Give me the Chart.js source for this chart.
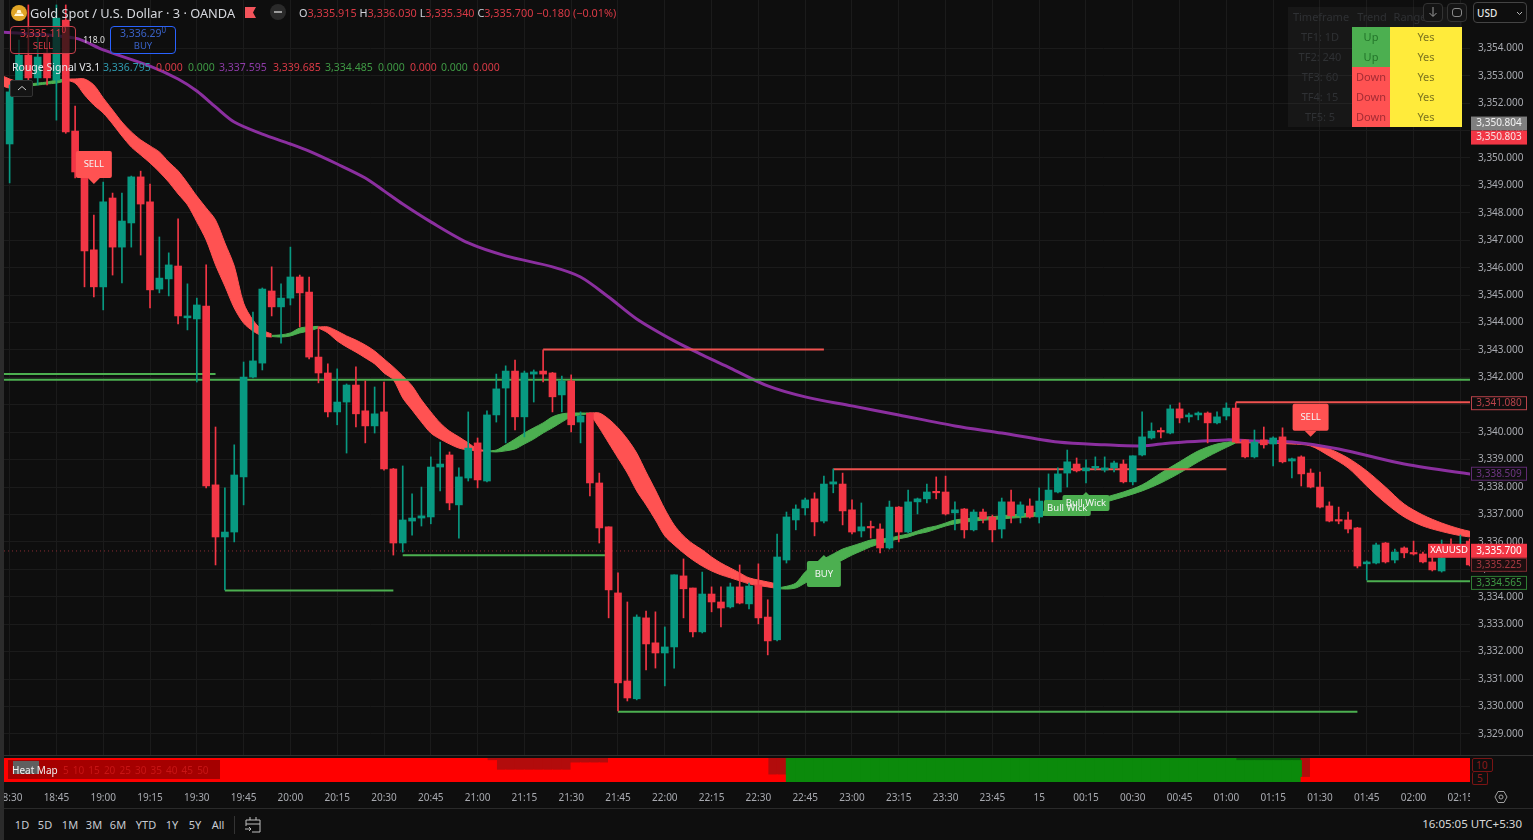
<!DOCTYPE html>
<html>
<head>
<meta charset="utf-8">
<script src="https://cdn.jsdelivr.net/npm/chart.js@4"></script>
<style>
    html, body { margin: 0; padding: 0; background: #0e0e0e; overflow: hidden; }
    body { width: 1533px; height: 840px; position: relative; font-family: "Noto Sans", sans-serif; color: #d1d4dc; }
    canvas { position: absolute; display: block; }
    #myChart { left: 0; top: 0; }
    #heatChart { left: 4px; top: 758px; }
    .t { position: absolute; white-space: nowrap; font-size: 10.5px; line-height: 14px; }
    .c { transform: translateX(-50%); text-align: center; }
    .box { position: absolute; box-sizing: border-box; }
    .red { color: #d93a46; } .grn { color: #3f9a45; } .teal { color: #2f9bb0; } .pur { color: #8e3ba8; }
    .cell { position: absolute; text-align: center; font-size: 11px; line-height: 20px; height: 20px; }
    .dim { color: #2f3134; }
    .tb { position: absolute; left: 0; font-size: 11px; color: #c8cbd2; }
</style>
</head>
<body>
    <canvas id="myChart" width="1533" height="755"></canvas>
    <canvas id="heatChart" width="1466" height="50"></canvas>

    <!-- frame -->
    <div class="box" style="left:0;top:0;width:4px;height:840px;background:#2b2b2b"></div>
    <div class="box" style="left:4px;top:755px;width:1529px;height:1px;background:#303030"></div>
    <div class="box" style="left:4px;top:808px;width:1529px;height:1px;background:#2a2a2a"></div>

    <!-- header -->
    <svg class="box" style="left:11px;top:5px" width="16" height="16"><circle cx="8" cy="8" r="8" fill="#e0a526"/><path d="M3 11h10l-1.5-2.5h-7zM5.5 8h5L9.500 5h-3z" fill="#fff6d8"/></svg>
    <div class="t" style="left:30px;top:5px;font-size:12.8px;line-height:16px;color:#d6d8de">Gold Spot / U.S. Dollar · 3 · OANDA</div>
    <svg class="box" style="left:245px;top:7px" width="11" height="11"><path d="M0 0h11l-3 5.500 3 5.500h-11z" fill="#f2545b"/></svg>
    <div class="box" style="left:270px;top:4px;width:16px;height:16px;border-radius:8px;background:#2a2a2a"></div>
    <div class="box" style="left:274px;top:11px;width:8px;height:2px;background:#9a9a9a"></div>
    <div class="t" style="left:299px;top:6px;font-size:10.85px">O<span class="red">3,335.915</span> H<span class="red">3,336.030</span> L<span class="red">3,335.340</span> C<span class="red">3,335.700</span> <span class="red">−0.180 (−0.01%)</span></div>

    <div class="box" style="left:10px;top:26px;width:66px;height:28px;border:1px solid #c8404c;border-radius:4px;background:rgba(15,15,15,.72)"></div>
    <div class="t c red" style="left:43px;top:26px;font-size:10.5px">3,335.11<sup style="font-size:8px;line-height:0">0</sup></div>
    <div class="t c red" style="left:43px;top:39px;font-size:9.5px">SELL</div>
    <div class="t c" style="left:94px;top:33px;font-size:8.5px;color:#e0e0e0">118.0</div>
    <div class="box" style="left:110px;top:26px;width:66px;height:28px;border:1px solid #2962ff;border-radius:4px;background:rgba(15,15,15,.72)"></div>
    <div class="t c" style="left:143px;top:26px;font-size:10.5px;color:#3a62c8">3,336.29<sup style="font-size:8px;line-height:0">0</sup></div>
    <div class="t c" style="left:143px;top:39px;font-size:9.5px;color:#3a62c8">BUY</div>

    <div class="t" style="left:12px;top:60px;color:#e4e6ea">Rouge Signal V3.1</div>
    <div class="t teal" style="left:103px;top:60px">3,336.795</div>
    <div class="t red" style="left:156px;top:60px">0.000</div>
    <div class="t grn" style="left:188px;top:60px">0.000</div>
    <div class="t pur" style="left:219px;top:60px">3,337.595</div>
    <div class="t red" style="left:273px;top:60px">3,339.685</div>
    <div class="t grn" style="left:325px;top:60px">3,334.485</div>
    <div class="t grn" style="left:378px;top:60px">0.000</div>
    <div class="t red" style="left:410px;top:60px">0.000</div>
    <div class="t grn" style="left:441px;top:60px">0.000</div>
    <div class="t red" style="left:473px;top:60px">0.000</div>
    <div class="box" style="left:10px;top:80px;width:23px;height:17px;border:1px solid #333;border-radius:2px;background:#141414"></div>
    <svg class="box" style="left:17px;top:85px" width="10" height="7"><path d="M1 5l4-3.500 4 3.500" fill="none" stroke="#cfcfcf"/></svg>

    <!-- trend table -->
    <div class="box" style="left:1288px;top:7px;width:174px;height:120px;background:rgba(60,60,60,.22)"></div>
    <div class="cell dim" style="left:1288px;top:7px;width:66px">Timeframe</div>
    <div class="cell dim" style="left:1354px;top:7px;width:36px">Trend</div>
    <div class="cell dim" style="left:1392px;top:7px;width:36px">Range</div>
    <div class="cell dim" style="left:1288px;top:27px;width:64px">TF1: 1D</div>
    <div class="cell dim" style="left:1288px;top:47px;width:64px">TF2: 240</div>
    <div class="cell dim" style="left:1288px;top:67px;width:64px">TF3: 60</div>
    <div class="cell dim" style="left:1288px;top:87px;width:64px">TF4: 15</div>
    <div class="cell dim" style="left:1288px;top:107px;width:64px">TF5: 5</div>
    <div class="cell" style="left:1352px;top:27px;width:38px;background:#4caf50;color:#23752a">Up</div>
    <div class="cell" style="left:1352px;top:47px;width:38px;background:#4caf50;color:#23752a">Up</div>
    <div class="cell" style="left:1352px;top:67px;width:38px;background:#ff5252;color:#a52c34">Down</div>
    <div class="cell" style="left:1352px;top:87px;width:38px;background:#ff5252;color:#a52c34">Down</div>
    <div class="cell" style="left:1352px;top:107px;width:38px;background:#ff5252;color:#a52c34">Down</div>
    <div class="cell" style="left:1390px;top:27px;width:72px;background:#ffeb3b;color:#7c7420">Yes</div>
    <div class="cell" style="left:1390px;top:47px;width:72px;background:#ffeb3b;color:#7c7420">Yes</div>
    <div class="cell" style="left:1390px;top:67px;width:72px;background:#ffeb3b;color:#7c7420">Yes</div>
    <div class="cell" style="left:1390px;top:87px;width:72px;background:#ffeb3b;color:#7c7420">Yes</div>
    <div class="cell" style="left:1390px;top:107px;width:72px;background:#ffeb3b;color:#7c7420">Yes</div>

    <!-- top right buttons -->
    <div class="box" style="left:1423px;top:3px;width:20px;height:19px;border:1px solid #333;border-radius:4px;background:#141414"></div>
    <svg class="box" style="left:1428px;top:7px" width="10" height="11"><path d="M5 0v9M1.500 6l3.500 3.500 3.500-3.500" fill="none" stroke="#9a9a9a"/></svg>
    <div class="box" style="left:1447px;top:3px;width:20px;height:19px;border:1px solid #333;border-radius:4px;background:#141414"></div>
    <div class="box" style="left:1452px;top:8px;width:10px;height:9px;border:1px solid #8a8a8a;border-radius:3px"></div>
    <div class="box" style="left:1473px;top:2px;width:54px;height:21px;border:1px solid #444;border-radius:4px;background:#0e0e0e"></div>
    <div class="t" style="left:1477px;top:6px;font-size:10px;color:#e6e6e6;font-weight:500">USD</div>
    <svg class="box" style="left:1516px;top:11px" width="7" height="5"><path d="M1 1l2.500 2.500 2.500-2.500" fill="none" stroke="#bbb"/></svg>

    <!-- heat map legend -->
    <div class="box" style="left:8px;top:760px;width:212px;height:19px;background:rgba(110,0,0,.62)"></div>
    <div class="box" style="left:13px;top:761px;width:26px;height:13px;background:#5f5f5f"></div>
    <div class="t" style="left:12px;top:763px;color:#f0f0f0;font-size:10px">Heat Map</div>
    <div class="t" style="left:63px;top:763px;color:#c81414;font-size:10px;word-spacing:1.500px">5 10 15 20 25 30 35 40 45 50</div>
    <div class="box" style="left:1472px;top:758px;width:21px;height:14px;border:1px solid #7a1414;border-radius:2px"></div>
    <div class="t" style="left:1476px;top:758px;color:#8c1a1a;font-size:10px">10</div>
    <div class="box" style="left:1472px;top:772px;width:16px;height:13px;border:1px solid #7a1414;border-top:0;border-radius:2px"></div>
    <div class="t" style="left:1477px;top:771px;color:#8c1a1a;font-size:10px">5</div>
    <svg class="box" style="left:1494px;top:790px" width="14" height="14"><path d="M4 1.500h6l3 5.500-3 5.500h-6l-3-5.500z" fill="none" stroke="#a0a0a0"/><circle cx="7" cy="7" r="2" fill="none" stroke="#a0a0a0"/></svg>

    <!-- bottom toolbar -->
    <div class="t c tb" style="left:22px;top:818px">1D</div>
    <div class="t c tb" style="left:45px;top:818px">5D</div>
    <div class="t c tb" style="left:70px;top:818px">1M</div>
    <div class="t c tb" style="left:94px;top:818px">3M</div>
    <div class="t c tb" style="left:118px;top:818px">6M</div>
    <div class="t c tb" style="left:146px;top:818px">YTD</div>
    <div class="t c tb" style="left:172px;top:818px">1Y</div>
    <div class="t c tb" style="left:195px;top:818px">5Y</div>
    <div class="t c tb" style="left:218px;top:818px">All</div>
    <div class="box" style="left:234px;top:816px;width:1px;height:18px;background:#333"></div>
    <svg class="box" style="left:245px;top:816px" width="17" height="17"><path d="M1 4h14v12h-8M1 4v6M1 8h14M5 1v3M11 1v3M0 13h6M4 11l2 2-2 2" fill="none" stroke="#c0c0c0"/></svg>
    <div class="t" style="right:11px;top:817px;font-size:11.5px;color:#d8d8d8">16:05:05 UTC+5:30</div>

    <script>
        // candles, one entry per 3 minute bar
        const opens = [3350.46,3352.79,3353.70,3352.87,3353.78,3352.79,3354.98,3350.93,3349.44,3346.60,3345.25,3348.49,3346.70,3347.58,3349.26,3348.35,3345.17,3345.54,3346.01,3344.12,
            3344.08,3344.55,3338.03,3336.13,3336.31,3338.32,3341.96,3342.47,3345.10,3344.52,3344.84,3345.61,3345.06,3342.69,3342.11,3340.69,3341.05,3341.67,3340.73,3340.18,
            3340.69,3338.61,3335.91,3336.71,3336.82,3336.86,3338.68,3339.12,3337.30,3338.28,3339.56,3338.17,3340.58,3341.56,3342.18,3340.51,3342.07,3342.18,3342.11,3341.31,
            3341.82,3340.32,3340.65,3338.10,3336.50,3334.09,3330.88,3330.23,3333.18,3332.27,3331.90,3332.12,3334.71,3334.27,3332.67,3334.05,3333.76,3333.58,3334.31,3333.69,
            3334.38,3333.21,3332.38,3335.29,3336.75,3337.19,3337.52,3336.71,3338.06,3338.06,3337.12,3336.35,3336.50,3336.42,3335.73,3337.22,3336.31,3337.41,3337.52,3337.77,
            3337.77,3337.01,3337.15,3336.39,3337.04,3336.86,3336.42,3337.41,3336.90,3337.26,3336.86,3337.37,3337.77,3338.46,3338.79,3338.54,3338.65,3338.57,3338.65,3338.79,
            3338.14,3339.12,3339.74,3339.99,3339.92,3340.80,3340.51,3340.58,3340.65,3340.29,3340.54,3340.83,3339.67,3339.05,3339.67,3339.52,3339.78,3338.90,3339.05,3338.46,
            3337.95,3337.26,3336.75,3336.75,3336.46,3335.15,3335.18,3335.91,3335.29,3335.73,3335.55,3335.51,3335.22,3334.89,3335.84,3335.55,3335.98];
        const highs = [3352.61,3354.25,3355.53,3354.43,3354.43,3355.53,3355.53,3351.84,3349.46,3347.87,3349.07,3348.67,3348.67,3349.29,3349.47,3349.00,3347.07,3346.49,3347.73,3345.36,
            3344.84,3346.05,3340.14,3337.92,3339.49,3342.51,3344.33,3345.21,3345.98,3345.36,3346.70,3345.68,3345.61,3343.79,3342.44,3342.26,3341.71,3342.33,3341.82,3341.60,
            3341.78,3338.63,3338.72,3337.70,3337.95,3339.05,3339.59,3339.23,3338.65,3340.69,3339.74,3340.73,3342.07,3342.37,3342.58,3342.18,3342.22,3342.95,3342.13,3342.00,
            3342.04,3340.69,3340.66,3338.46,3336.50,3334.82,3333.76,3333.29,3333.43,3333.40,3332.85,3334.75,3335.33,3334.27,3334.85,3334.31,3334.31,3334.45,3335.11,3334.45,
            3335.15,3333.84,3336.24,3337.04,3337.30,3337.55,3337.74,3338.35,3338.61,3338.46,3337.48,3337.37,3336.71,3336.61,3337.44,3337.24,3337.84,3337.55,3338.06,3338.32,
            3338.35,3337.41,3337.17,3337.12,3337.15,3336.93,3337.55,3337.84,3337.41,3337.52,3337.92,3338.43,3338.65,3339.30,3339.01,3338.94,3339.05,3339.05,3338.90,3338.94,
            3339.09,3340.69,3340.29,3340.11,3340.94,3341.02,3340.65,3340.69,3340.69,3340.69,3341.02,3341.02,3339.67,3340.03,3340.14,3339.78,3340.11,3339.01,3339.09,3338.61,
            3338.50,3337.41,3337.22,3337.04,3336.48,3335.26,3335.91,3335.93,3335.69,3335.77,3335.98,3335.58,3335.58,3336.02,3336.06,3336.20,3336.06];
        const lows = [3349.04,3352.61,3352.61,3352.61,3352.61,3351.33,3350.85,3349.22,3345.25,3344.88,3344.41,3345.68,3345.39,3346.70,3346.41,3344.48,3345.03,3344.92,3343.90,3343.68,
            3341.78,3337.92,3335.11,3334.20,3335.95,3337.30,3341.93,3342.22,3344.19,3343.20,3344.59,3343.79,3342.62,3341.75,3340.51,3340.22,3339.19,3340.14,3339.56,3339.92,
            3338.57,3335.47,3335.58,3336.20,3336.53,3336.61,3337.81,3337.12,3336.09,3338.17,3337.92,3338.14,3340.32,3339.56,3340.03,3339.78,3341.05,3341.78,3340.69,3340.69,
            3339.96,3339.56,3337.63,3335.91,3333.18,3329.79,3330.15,3330.19,3331.28,3331.35,3330.70,3331.35,3333.18,3332.49,3332.63,3333.40,3332.85,3333.54,3333.69,3333.51,
            3332.96,3331.83,3332.34,3335.18,3336.39,3336.93,3336.17,3336.64,3337.74,3336.57,3336.24,3336.13,3336.09,3335.55,3335.69,3335.95,3336.28,3336.97,3337.37,3337.52,
            3336.93,3336.39,3336.09,3336.35,3336.64,3335.95,3336.09,3336.64,3336.64,3336.82,3336.64,3337.33,3337.74,3337.95,3338.50,3338.10,3338.57,3338.50,3338.50,3338.10,
            3338.03,3339.09,3339.70,3339.74,3339.89,3340.29,3340.32,3340.40,3339.56,3340.25,3340.40,3339.56,3339.01,3339.01,3339.37,3338.72,3338.83,3338.28,3337.99,3337.92,
            3337.19,3336.68,3336.61,3336.28,3335.00,3334.56,3335.15,3335.18,3335.18,3335.37,3335.47,3335.18,3334.89,3334.85,3335.40,3335.44,3335.07];
        const closes = [3352.36,3353.70,3352.87,3353.63,3352.87,3355.05,3350.90,3349.44,3346.56,3345.25,3348.35,3346.70,3347.65,3349.26,3348.27,3345.14,3345.57,3346.05,3344.19,3344.19,
            3344.59,3337.99,3336.13,3336.31,3338.39,3341.96,3342.55,3345.17,3344.52,3344.84,3345.61,3345.03,3342.69,3342.11,3340.69,3341.05,3341.67,3340.62,3340.18,3340.62,
            3338.61,3335.91,3336.75,3336.82,3336.90,3338.68,3338.79,3337.37,3338.32,3339.37,3338.21,3340.58,3341.53,3342.18,3340.51,3342.11,3342.15,3342.07,3341.24,3341.82,
            3340.22,3340.54,3338.10,3336.46,3334.20,3330.81,3330.26,3333.21,3332.23,3331.90,3332.12,3334.75,3334.24,3332.67,3334.05,3333.76,3333.54,3334.31,3333.72,3334.34,
            3333.18,3332.34,3335.40,3336.86,3337.15,3337.48,3336.68,3338.06,3338.14,3337.08,3336.31,3336.50,3336.46,3335.73,3337.22,3336.31,3337.41,3337.52,3337.77,3337.74,
            3336.97,3337.12,3336.39,3337.04,3336.79,3336.39,3337.41,3336.90,3337.30,3336.86,3337.44,3337.84,3338.43,3338.87,3338.54,3338.65,3338.68,3338.65,3338.83,3338.14,
            3339.09,3339.78,3339.99,3339.96,3340.80,3340.47,3340.58,3340.65,3340.29,3340.51,3340.83,3339.59,3339.05,3339.59,3339.49,3339.74,3338.87,3338.98,3338.43,3337.95,
            3337.22,3336.71,3336.71,3336.42,3335.07,3335.22,3335.84,3335.22,3335.58,3335.55,3335.51,3335.22,3334.93,3335.37,3335.55,3335.84,3335.11];

        // time axis, a label every 5 bars
        const timeLabels = ["18:30","18:45","19:00","19:15","19:30","19:45","20:00","20:15","20:30","20:45","21:00","21:15","21:30","21:45","22:00","22:15","22:30","22:45","23:00","23:15","23:30","23:45","15","00:15","00:30","00:45","01:00","01:15","01:30","01:45","02:00","02:15"];
        const barsPerLabel = 5;
        const priceTicks = [3329,3330,3331,3332,3333,3334,3335,3336,3337,3338,3339,3340,3341,3342,3343,3344,3345,3346,3347,3348,3349,3350,3351,3352,3353,3354];
        // my price readings came out a touch high against the printed grid
        const tickShift = 0.05;

        // purple average
        const maBars = [-1,7,10,15,18,20,22,24,27,30,32,35,38,40,42,45,49,53,58,61,64,67,71,74,77,81,85,90,95,101,106,112,117,121,124,130,133,137,142,149,157];
        const maValues = [3354.54,3354.32,3353.89,3353.30,3352.83,3352.39,3351.81,3351.26,3350.82,3350.46,3350.20,3349.73,3349.22,3348.75,3348.27,3347.62,3346.85,3346.38,3345.98,3345.61,3344.88,3344.08,3343.28,3342.77,3342.29,3341.64,3341.24,3340.91,3340.58,3340.18,3339.92,3339.59,3339.49,3339.45,3339.56,3339.67,3339.63,3339.59,3339.34,3338.79,3338.38];

        // ribbon sections, upper and lower edge per section
        const r0Bars = [-1,0,1,2];
        const r0Top = [3352.98,3352.83,3352.72,3352.65];
        const r0Bot = [3352.61,3352.50,3352.57,3352.61];
        const g0Bars = [2,3,4,5,6];
        const g0Top = [3352.65,3352.68,3352.72,3352.79,3352.83];
        const g0Bot = [3352.57,3352.61,3352.65,3352.68,3352.76];
        const r1Bars = [6,7,8,9,10,11,12,13,14,15,16,17,18,19,20,21,22,23,24,25,26,27,28];
        const r1Top = [3352.83,3352.83,3352.83,3352.61,3352.14,3351.70,3351.26,3350.90,3350.61,3350.39,3350.17,3349.80,3349.48,3349.04,3348.56,3348.13,3347.69,3346.85,3346.01,3344.66,3344.04,3343.68,3343.53];
        const r1Bot = [3352.79,3352.68,3352.25,3351.88,3351.59,3351.19,3350.75,3350.35,3350.06,3349.77,3349.44,3349.07,3348.64,3348.24,3347.62,3346.96,3346.05,3345.28,3344.48,3343.93,3343.64,3343.46,3343.42];
        const g1Bars = [28,29,30,31,32,33];
        const g1Top = [3343.48,3343.50,3343.57,3343.75,3343.79,3343.81];
        const g1Bot = [3343.44,3343.42,3343.46,3343.57,3343.64,3343.75];
        const r2Bars = [33,34,35,36,37,38,39,40,41,42,43,44,45,46,47,48,49,50,51];
        const r2Top = [3343.79,3343.79,3343.64,3343.46,3343.31,3343.13,3342.91,3342.62,3342.33,3342.00,3341.64,3341.13,3340.69,3340.29,3339.99,3339.78,3339.56,3339.34,3339.28];
        const r2Bot = [3343.75,3343.57,3343.28,3343.06,3342.87,3342.66,3342.44,3342.11,3341.86,3341.20,3340.76,3340.32,3339.92,3339.70,3339.52,3339.37,3339.30,3339.27,3339.25];
        const g2Bars = [51,52,53,54,55,56,57,58,59,60,61,62];
        const g2Top = [3339.27,3339.30,3339.49,3339.70,3339.92,3340.11,3340.29,3340.51,3340.62,3340.65,3340.65,3340.65];
        const g2Bot = [3339.25,3339.23,3339.27,3339.34,3339.52,3339.70,3339.92,3340.11,3340.32,3340.51,3340.58,3340.62];
        const r3Bars = [62,63,64,65,66,67,68,69,70,71,72,73,74,75,76,77,78,79,80,81,82];
        const r3Top = [3340.65,3340.65,3340.43,3340.11,3339.70,3339.19,3338.50,3337.84,3337.15,3336.57,3336.17,3335.88,3335.66,3335.40,3335.18,3335.00,3334.82,3334.64,3334.56,3334.49,3334.42];
        const r3Bot = [3340.63,3340.11,3339.56,3339.01,3338.46,3337.81,3337.30,3336.75,3336.17,3335.84,3335.55,3335.29,3335.07,3334.89,3334.75,3334.64,3334.53,3334.42,3334.36,3334.31,3334.25];
        const g3Bars = [82,83,84,85,86,87,88,89,90,91,92,93,94,95,96,97,98,99,100,101,103,106,110,113,116,119,121,123,125,127,129,131];
        const g3Top = [3334.27,3334.33,3334.45,3334.85,3335.11,3335.33,3335.51,3335.69,3335.80,3335.91,3336.02,3336.06,3336.09,3336.17,3336.24,3336.35,3336.46,3336.53,3336.64,3336.75,3336.82,3336.90,3337.04,3337.22,3337.48,3337.77,3338.03,3338.46,3338.87,3339.27,3339.52,3339.63];
        const g3Bot = [3334.25,3334.23,3334.27,3334.45,3334.64,3334.89,3335.11,3335.29,3335.47,3335.62,3335.77,3335.88,3335.98,3336.06,3336.13,3336.24,3336.31,3336.42,3336.53,3336.61,3336.71,3336.79,3336.90,3337.04,3337.30,3337.59,3337.81,3338.10,3338.46,3338.87,3339.23,3339.56];
        const r4Bars = [131,134,137,139,141,143,145,147,149,151,153,155,157];
        const r4Top = [3339.63,3339.63,3339.59,3339.52,3339.34,3339.01,3338.54,3337.95,3337.33,3336.93,3336.64,3336.42,3336.26];
        const r4Bot = [3339.56,3339.56,3339.52,3339.45,3339.08,3338.65,3337.99,3337.37,3336.86,3336.53,3336.33,3336.18,3336.09];

        // swing levels: start bar, end bar, price
        const greenLevelFrom = [-1,-1,23,42,65,145];
        const greenLevelTo = [22,157,41,64,144,157];
        const greenLevelPrice = [3342.07,3341.86,3334.18,3335.46,3329.76,3334.52];
        const redLevelFrom = [57,88,131];
        const redLevelTo = [87,130,157];
        const redLevelPrice = [3342.97,3338.60,3341.04];
        const lastPrice = 3335.62;

        // signal flags
        const signalTexts = ["SELL","SELL","BUY","Bull Wick","Bull Wick"];
        const signalBars = [9,139,87,115,113];
        const signalPrices = [3349.00,3339.78,3335.47,3337.77,3337.59];

        // price tags on the right axis
        const tagTexts = ["3,350.804","3,350.803","3,341.080","3,338.509","3,335.700","3,335.225","3,334.565"];
        const tagPrices = [3350.804,3350.803,3341.080,3338.509,3335.700,3335.225,3334.565];

        // heat map: dark rows (of 10) from the top, one value per cell
        const heatDark = [0,0,0,0,0,0,0,0,0,0,0,0,0,0,0,0,0,0,0,0,0,0,0,0,0,0,0,0,0,0,0,0,0,0,0,0,0,0,0,0,0,0,0,0,0,0,0,0,0,0,0,0,
            1,5,5,5,5,5,5,5,5,2,2,2,2,0,0,0,0,0,0,0,0,0,0,0,0,0,0,0,0,0,7,7,
            0,0,0,0,0,0,0,0,0,0,0,0,0,0,0,0,0,0,0,0,0,0,0,0,0,0,0,0,0,0,0,0,0,0,0,0,0,0,0,0,0,0,0,0,0,0,0,0,
            1,1,1,1,1,1,1,8,0,0,0,0,0,0,0,0,0,0,0,0,0,0,0,0,0,0];
        const heatGreenFrom = 84;
        const heatGreenTo = 139;
        const heatRows = 10;

        const upColor = "#089981";
        const downColor = "#f23645";
        const ribbonRed = "#ff5252";
        const ribbonGreen = "#4caf50";
        const gridColor = "#1b1b1b";
        const axisFont = { family: "Noto Sans", size: 10 };
        const xMin = -0.6;
        const xMax = 156.03;

        function ribbon(bars, top, bot, color) {
            return [{
                type: "line", order: 5, data: bars.map((b, i) => ({ x: b, y: top[i] })),
                borderColor: color, borderWidth: 1, backgroundColor: color, pointRadius: 0, tension: 0.3, fill: "+1"
            }, {
                type: "line", order: 5, data: bars.map((b, i) => ({ x: b, y: bot[i] })),
                borderColor: color, borderWidth: 1, pointRadius: 0, tension: 0.3, fill: false
            }];
        }

        function level(from, to, price, color) {
            return {
                type: "line", order: 3, data: [{ x: from, y: price }, { x: to, y: price }],
                borderColor: color, borderWidth: 2, pointRadius: 0
            };
        }

        const candleColors = closes.map((c, i) => c >= opens[i] ? upColor : downColor);

        const datasets = [
            {
                order: 1, grouped: false, barThickness: 7, minBarLength: 1.5,
                data: opens.map((o, i) => ({ x: i, y: [o, closes[i]] })),
                backgroundColor: candleColors
            },
            {
                order: 2, grouped: false, barThickness: 1,
                data: lows.map((l, i) => ({ x: i, y: [l, highs[i]] })),
                backgroundColor: candleColors
            },
            {
                type: "line", order: 4, data: maBars.map((b, i) => ({ x: b, y: maValues[i] })),
                borderColor: "#8b2f9f", borderWidth: 3, pointRadius: 0, tension: 0.3
            },
            {
                type: "line", order: 6, data: [{ x: xMin, y: lastPrice }, { x: xMax, y: lastPrice }],
                borderColor: "#8a2c33", borderWidth: 1, borderDash: [1, 3], pointRadius: 0
            },
            ...greenLevelPrice.map((p, i) => level(greenLevelFrom[i], greenLevelTo[i], p, "#4caf50")),
            ...redLevelPrice.map((p, i) => level(redLevelFrom[i], redLevelTo[i], p, "#ef5350")),
            ...ribbon(r0Bars, r0Top, r0Bot, ribbonRed),
            ...ribbon(g0Bars, g0Top, g0Bot, ribbonGreen),
            ...ribbon(r1Bars, r1Top, r1Bot, ribbonRed),
            ...ribbon(g1Bars, g1Top, g1Bot, ribbonGreen),
            ...ribbon(r2Bars, r2Top, r2Bot, ribbonRed),
            ...ribbon(g2Bars, g2Top, g2Bot, ribbonGreen),
            ...ribbon(r3Bars, r3Top, r3Bot, ribbonRed),
            ...ribbon(g3Bars, g3Top, g3Bot, ribbonGreen),
            ...ribbon(r4Bars, r4Top, r4Bot, ribbonRed)
        ];

        // boxes go first and texts after, the two Bull Wick flags overlap
        function drawFlag(ctx, text, x, tip, textPass) {
            const isSell = text === "SELL";
            const isBuy = text === "BUY";
            const w = isSell ? 36 : isBuy ? 34 : 47;
            const h = isSell ? 27 : isBuy ? 26 : 16;
            const up = !isSell;
            const neck = isSell ? 6 : isBuy ? 6 : 3;
            const boxY = up ? tip + neck : tip - neck - h;
            if (textPass) {
                ctx.fillStyle = "#f4f4f4";
                ctx.font = "9.5px 'Noto Sans'";
                ctx.textAlign = "center";
                ctx.textBaseline = "middle";
                ctx.fillText(text, x, boxY + h / 2);
                return;
            }
            ctx.fillStyle = isSell ? ribbonRed : ribbonGreen;
            ctx.beginPath();
            ctx.roundRect(x - w / 2, boxY, w, h, 2);
            ctx.fill();
            ctx.beginPath();
            ctx.moveTo(x, tip);
            ctx.lineTo(x - neck, up ? boxY : boxY + h);
            ctx.lineTo(x + neck, up ? boxY : boxY + h);
            ctx.fill();
        }

        function drawTag(ctx, text, y, fill, stroke, color) {
            ctx.fillStyle = fill;
            ctx.fillRect(1471, y - 7, 56, 14);
            if (stroke) {
                ctx.strokeStyle = stroke;
                ctx.strokeRect(1471.5, y - 6.5, 55, 13);
            }
            ctx.fillStyle = color;
            ctx.font = "10px 'Noto Sans'";
            ctx.textAlign = "center";
            ctx.textBaseline = "middle";
            ctx.fillText(text, 1499, y);
        }

        const overlays = {
            id: "overlays",
            afterDraw(chart) {
                const ctx = chart.ctx;
                const xs = chart.scales.x;
                const ys = chart.scales.y;
                ctx.save();
                [false, true].forEach(pass => {
                    signalTexts.forEach((t, i) => {
                        drawFlag(ctx, t, xs.getPixelForValue(signalBars[i]), ys.getPixelForValue(signalPrices[i]), pass);
                    });
                });
                const py = tagPrices.map(p => ys.getPixelForValue(p));
                drawTag(ctx, tagTexts[0], py[0] - 11, "#7f7f7f", null, "#f2f2f2");
                drawTag(ctx, tagTexts[1], py[1] + 3, "#f23645", null, "#f6e3e4");
                drawTag(ctx, tagTexts[2], py[2] + 2, "#0e0e0e", "#b8434a", "#b8434a");
                drawTag(ctx, tagTexts[3], py[3] + 2, "#0e0e0e", "#5f2a70", "#6f3684");
                drawTag(ctx, tagTexts[5], py[5] + 3, "#1c0f10", "#7c2a30", "#a53840");
                drawTag(ctx, tagTexts[4], py[4] + 2, "#f23645", null, "#ffffff");
                drawTag(ctx, tagTexts[6], py[6] + 3, "#0e0e0e", "#2f7d34", "#3f9a45");
                // symbol tag next to the last price
                ctx.fillStyle = "#f23645";
                ctx.fillRect(1428, py[4] - 5, 42, 14);
                ctx.fillStyle = "#ffffff";
                ctx.font = "9.5px 'Noto Sans'";
                ctx.fillText("XAUUSD", 1449, py[4] + 2);
                ctx.restore();
            }
        };

        new Chart(document.getElementById("myChart").getContext("2d"), {
            type: "bar",
            data: { datasets: datasets },
            plugins: [overlays],
            options: {
                responsive: false,
                animation: false,
                events: [],
                layout: { padding: { left: 4, right: 0, top: 0, bottom: 0 } },
                plugins: { legend: { display: false }, tooltip: { enabled: false } },
                scales: {
                    x: {
                        type: "linear", min: xMin, max: xMax, offset: false,
                        afterBuildTicks: s => { s.ticks = timeLabels.map((t, i) => ({ value: i * barsPerLabel })); },
                        afterFit: s => { s.height = 0; s.paddingLeft = 0; s.paddingRight = 0; },
                        ticks: { display: false },
                        grid: { color: gridColor, drawTicks: false, offset: false },
                        border: { display: false }
                    },
                    y: {
                        position: "right", min: 3328.18, max: 3355.71,
                        afterBuildTicks: s => { s.ticks = priceTicks.map(v => ({ value: v - tickShift })); },
                        afterFit: s => { s.width = 63; s.paddingTop = 0; s.paddingBottom = 0; },
                        ticks: {
                            color: "#a8aab0", font: axisFont, padding: 8, autoSkip: false,
                            callback: v => Math.round(v).toLocaleString("en-US", { minimumFractionDigits: 3 })
                        },
                        grid: { color: gridColor, drawTicks: false },
                        border: { display: false }
                    }
                }
            }
        });

        const heatColor = (i, dark) => {
            const green = i >= heatGreenFrom && i < heatGreenTo;
            if (dark) return green ? "#0a5f0a" : "#b20c0c";
            return green ? "#0b8a0b" : "#ff0000";
        };

        new Chart(document.getElementById("heatChart").getContext("2d"), {
            type: "bar",
            data: {
                datasets: [
                    {
                        grouped: false, barThickness: 10,
                        data: heatDark.map((d, i) => ({ x: i - 0.5, y: [0, heatRows - d] })),
                        backgroundColor: heatDark.map((d, i) => heatColor(i, false))
                    },
                    {
                        grouped: false, barThickness: 10,
                        data: heatDark.map((d, i) => ({ x: i - 0.5, y: [heatRows - d, heatRows] })),
                        backgroundColor: heatDark.map((d, i) => heatColor(i, true))
                    }
                ]
            },
            options: {
                responsive: false,
                animation: false,
                events: [],
                layout: { padding: 0 },
                plugins: { legend: { display: false }, tooltip: { enabled: false } },
                scales: {
                    x: {
                        type: "linear", min: xMin, max: xMax, offset: false,
                        afterBuildTicks: s => { s.ticks = timeLabels.map((t, i) => ({ value: i * barsPerLabel })); },
                        afterFit: s => { s.height = 26; s.paddingLeft = 0; s.paddingRight = 0; },
                        ticks: {
                            color: "#a8aab0", font: axisFont, padding: 2, autoSkip: false, maxRotation: 0,
                            callback: v => timeLabels[v / barsPerLabel]
                        },
                        grid: { display: false, offset: false },
                        border: { display: false }
                    },
                    y: { display: false, min: 0, max: heatRows }
                }
            }
        });
    </script>
</body>
</html>
